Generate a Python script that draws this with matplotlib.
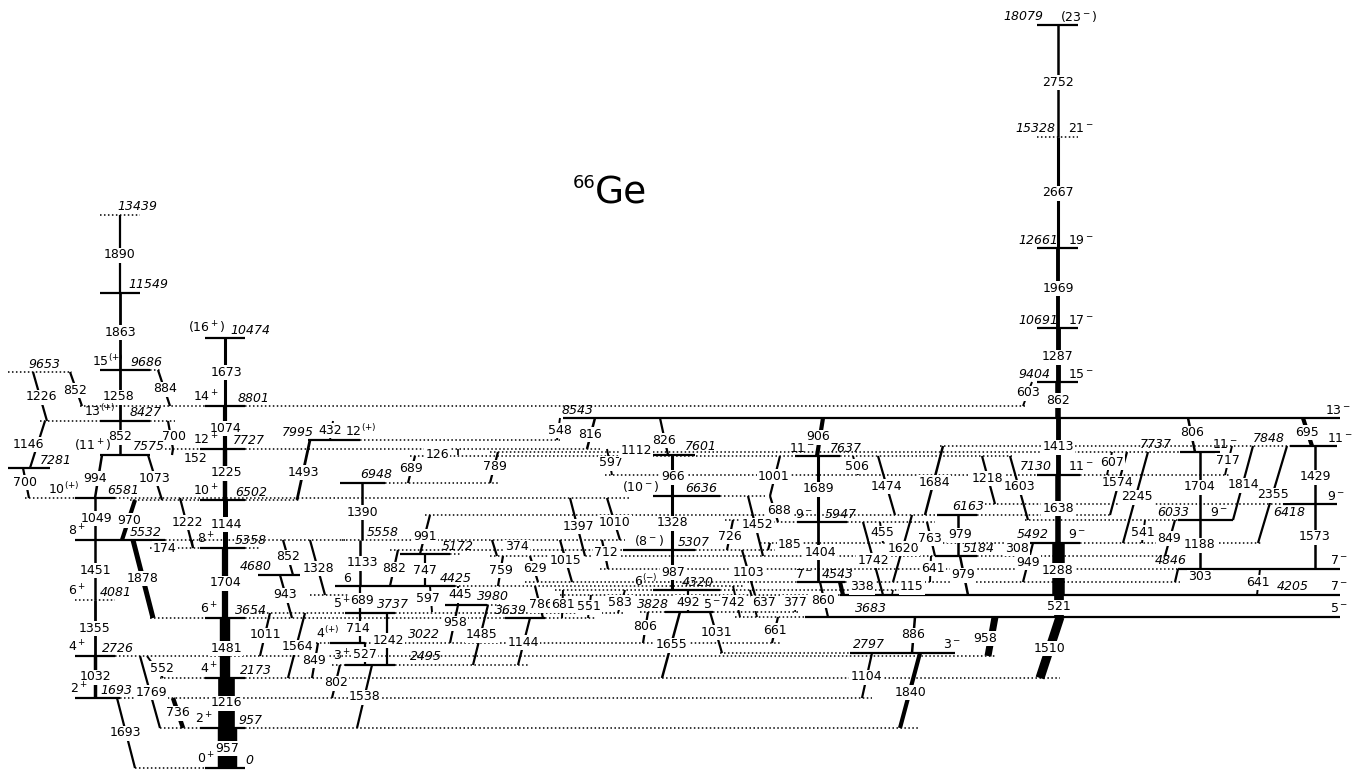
import matplotlib
matplotlib.use("Agg")
import matplotlib.pyplot as plt

# --- level data: energy (keV) and spin/parity label ---
level_energy = ["0", "957", "1693", "2173", "2495", "2726", "2797", "3022",
                "3639", "3654", "3683", "3737", "3828", "3980", "4081", "4205",
                "4320", "4425", "4543", "4680", "4846", "5172", "5184", "5307",
                "5358", "5492", "5532", "5558", "5947", "6033", "6163", "6418",
                "6502", "6581", "6636", "6948", "7130", "7281", "7575", "7601",
                "7637", "7727", "7737", "7848", "7995", "8427", "8543", "8801",
                "9404", "9653", "9686", "10474", "10691", "11549", "12661",
                "13439", "15328", "18079"]
level_spin = ["0$^+$", "2$^+$", "2$^+$", "4$^+$", "3$^+$", "4$^+$", "3$^-$", "4$^{(+)}$",
              "", "6$^+$", "5$^-$", "5$^+$", "5$^-$", "", "6$^+$", "7$^-$",
              "6$^{(-)}$", "6", "7$^-$", "", "7$^-$", "", "", "(8$^-$)",
              "8$^+$", "9$^-$", "8$^+$", "", "9$^-$", "9$^-$", "", "9$^-$",
              "10$^+$", "10$^{(+)}$", "(10$^-$)", "", "11$^-$", "", "(11$^+$)", "",
              "11$^-$", "12$^+$", "11$^-$", "11$^-$", "12$^{(+)}$", "13$^{(+)}$", "13$^-$", "14$^+$",
              "15$^-$", "", "15$^{(+)}$", "(16$^+$)", "17$^-$", "", "19$^-$",
              "", "21$^-$", "(23$^-$)"]

# --- gamma transitions: label, initial level, final level ---
gammas = [
    ("1890", "13439", "11549"), ("1863", "11549", "9686"), ("1258", "9686", "8427"),
    ("852", "9653", "8801"), ("1226", "9653", "8427"), ("884", "9686", "8801"),
    ("852", "8427", "7575"), ("1146", "8427", "7281"), ("700", "8427", "7727"),
    ("1074", "8801", "7727"), ("1673", "10474", "8801"), ("994", "7575", "6581"),
    ("700", "7281", "6581"), ("1073", "7575", "6502"), ("152", "7727", "7575"),
    ("1225", "7727", "6502"), ("1049", "6581", "5532"), ("970", "6502", "5532"),
    ("1222", "6581", "5358"), ("174", "5532", "5358"), ("1144", "6502", "5358"),
    ("1451", "5532", "4081"), ("1878", "5532", "3654"), ("1704", "5358", "3654"),
    ("1355", "4081", "2726"), ("1481", "3654", "2173"), ("1032", "2726", "1693"),
    ("1216", "2173", "957"), ("957", "957", "0"), ("1693", "1693", "0"),
    ("1769", "2726", "957"), ("552", "2726", "2173"), ("736", "1693", "957"),
    ("943", "4680", "3654"), ("852", "5532", "4680"), ("1328", "5532", "4205"),
    ("1011", "3737", "2726"), ("1564", "3737", "2173"), ("849", "3022", "2173"),
    ("802", "2495", "1693"), ("714", "3737", "3022"), ("1242", "3737", "2495"),
    ("527", "3022", "2495"), ("1538", "2495", "957"), ("689", "4425", "3737"),
    ("1133", "5558", "4425"), ("1390", "6948", "5558"), ("882", "5307", "4425"),
    ("747", "5172", "4425"), ("991", "6163", "5172"), ("597", "4425", "3828"),
    ("445", "4425", "3980"), ("958", "3980", "3022"), ("1485", "3980", "2495"),
    ("759", "5184", "4425"), ("374", "5558", "5184"), ("1144", "3639", "2495"),
    ("629", "5184", "4543"), ("786", "4425", "3639"), ("1015", "5558", "4543"),
    ("681", "4320", "3639"), ("551", "4205", "3654"), ("583", "4320", "3737"),
    ("1397", "6581", "5184"), ("712", "5558", "4846"), ("1010", "6581", "5558"),
    ("548", "8543", "7995"), ("816", "8543", "7727"), ("126", "7727", "7601"),
    ("789", "7737", "6948"), ("689", "7637", "6948"), ("1493", "7995", "6502"),
    ("432", "8427", "7995"), ("597", "7727", "7130"), ("1112", "7737", "7601"),
    ("826", "8543", "7601"), ("966", "7601", "6636"), ("1328", "6636", "5307"),
    ("987", "5307", "4320"), ("492", "4320", "3828"), ("1655", "3828", "2173"),
    ("1031", "3828", "2797"), ("806", "3828", "3022"), ("742", "4425", "3683"),
    ("637", "4320", "3683"), ("1103", "5307", "4205"), ("377", "4205", "3828"),
    ("661", "3683", "3022"), ("860", "4543", "3683"), ("338", "4543", "4205"),
    ("115", "4320", "4205"), ("1404", "5947", "4543"), ("1689", "7637", "5947"),
    ("906", "8543", "7637"), ("1001", "7637", "6636"), ("688", "6636", "5947"),
    ("1452", "6636", "5184"), ("726", "6033", "5307"), ("185", "5492", "5307"),
    ("506", "7637", "7130"), ("1474", "7637", "6163"), ("1684", "7848", "6163"),
    ("1218", "7637", "6418"), ("1603", "7637", "6033"), ("455", "5947", "5492"),
    ("1742", "5947", "4205"), ("1620", "6163", "4543"), ("763", "5947", "5184"),
    ("979", "6163", "5184"), ("979", "5184", "4205"), ("641", "5184", "4543"),
    ("308", "5492", "5184"), ("949", "5492", "4543"), ("1288", "5492", "4205"),
    ("521", "4205", "3683"), ("1510", "3683", "2173"), ("958", "3683", "2726"),
    ("886", "3683", "2797"), ("1104", "2797", "1693"), ("1840", "2797", "957"),
    ("1638", "7130", "5492"), ("1413", "8543", "7130"), ("862", "9404", "8543"),
    ("1287", "10691", "9404"), ("1969", "12661", "10691"), ("2667", "15328", "12661"),
    ("2752", "18079", "15328"), ("603", "9404", "8801"), ("607", "7737", "7130"),
    ("1574", "7737", "6163"), ("2245", "7737", "5492"), ("541", "6033", "5492"),
    ("849", "6033", "5184"), ("1188", "6033", "4846"), ("1704", "7737", "6033"),
    ("806", "8543", "7737"), ("717", "7848", "7130"), ("1814", "7848", "6033"),
    ("2355", "7848", "5492"), ("695", "8543", "7848"), ("1429", "7848", "6418"),
    ("1573", "6418", "4846"), ("303", "4846", "4543"), ("641", "4846", "4205"),
]

# --- drawing layout (page coordinates) ---
# level: y, solid spans, dotted spans, energy label x, spin label x
level_layout = {
    "0": (768, [(205, 245)], [(135, 205)], 245, 197),
    "957": (728, [(200, 245)], [(160, 200), (245, 920)], 238, 195),
    "1693": (698, [(75, 120)], [(120, 872)], 100, 70),
    "2173": (678, [(205, 245)], [(160, 205), (245, 1060)], 240, 200),
    "2495": (665, [(345, 395)], [(332, 345), (395, 530)], 410, 333),
    "2726": (656, [(75, 115)], [(115, 995)], 102, 68),
    "2797": (653, [(850, 955)], [(720, 850)], 853, 943),
    "3022": (643, [(330, 365)], [(312, 330), (365, 780)], 408, 316),
    "3639": (618, [(505, 545)], [], 495, 0),
    "3654": (618, [(205, 245)], [(150, 205), (245, 505), (545, 595)], 235, 200),
    "3683": (617, [(805, 1340)], [(735, 805)], 855, 1330),
    "3737": (613, [(345, 395)], [(255, 345), (395, 625)], 377, 333),
    "3828": (612, [(665, 713)], [(640, 665), (713, 800)], 637, 703),
    "3980": (605, [(445, 487)], [(487, 500)], 477, 0),
    "4081": (600, [], [(75, 115)], 100, 68),
    "4205": (595, [(840, 1340)], [(310, 350), (560, 840)], 1277, 1330),
    "4320": (590, [(653, 720)], [(555, 653), (720, 900)], 682, 634),
    "4425": (586, [(335, 455)], [(455, 745)], 440, 343),
    "4543": (582, [(797, 845)], [(525, 797), (845, 1180)], 822, 795),
    "4680": (575, [(258, 300)], [], 240, 0),
    "4846": (569, [(1178, 1340)], [(600, 1178)], 1155, 1330),
    "5172": (554, [(400, 450)], [(450, 460)], 442, 0),
    "5184": (556, [(935, 977)], [(490, 935), (977, 1170)], 963, 0),
    "5307": (550, [(623, 695)], [(390, 623), (695, 775)], 678, 634),
    "5358": (548, [(200, 245)], [(150, 200), (245, 260)], 235, 197),
    "5492": (543, [(1017, 1080)], [(760, 1017), (1080, 1262)], 1017, 1068),
    "5532": (540, [(75, 165)], [(165, 345)], 130, 68),
    "5558": (540, [], [(342, 625)], 367, 0),
    "5947": (522, [(797, 847)], [(765, 797), (847, 935)], 825, 795),
    "6033": (520, [(1178, 1233)], [(725, 765), (1025, 1178)], 1157, 1210),
    "6163": (515, [(937, 977)], [(425, 937), (977, 1112)], 952, 0),
    "6418": (504, [(1283, 1337)], [(985, 1283)], 1273, 1327),
    "6502": (500, [(200, 245)], [(130, 200), (245, 300)], 235, 193),
    "6581": (498, [(75, 115)], [(25, 75), (115, 630)], 107, 48),
    "6636": (496, [(653, 720)], [(720, 765)], 685, 622),
    "6948": (483, [(340, 385)], [(385, 500)], 360, 0),
    "7130": (475, [(1037, 1080)], [(605, 1037), (1080, 1230)], 1020, 1068),
    "7281": (468, [(8, 50)], [], 40, 0),
    "7575": (455, [(100, 150)], [], 133, 74),
    "7601": (455, [(640, 695)], [], 685, 0),
    "7637": (456, [(795, 840)], [(410, 795), (840, 1012)], 830, 789),
    "7727": (449, [(200, 245)], [(165, 200), (245, 600)], 233, 193),
    "7737": (452, [(1180, 1220)], [(490, 1180)], 1140, 1212),
    "7848": (446, [(1290, 1337)], [(940, 1290)], 1253, 1327),
    "7995": (440, [(308, 360)], [(360, 560)], 282, 345),
    "8427": (421, [(100, 150)], [(40, 100), (150, 175)], 130, 84),
    "8543": (418, [(563, 1340)], [], 562, 1325),
    "8801": (406, [(205, 245)], [(80, 205), (245, 1025)], 238, 193),
    "9404": (382, [(1037, 1078)], [], 1018, 1068),
    "9653": (372, [], [(8, 72)], 28, 0),
    "9686": (370, [(100, 150)], [(150, 160)], 130, 92),
    "10474": (338, [(205, 245)], [], 230, 188),
    "10691": (328, [(1037, 1078)], [], 1018, 1068),
    "11549": (293, [(100, 140)], [], 128, 0),
    "12661": (248, [(1037, 1078)], [], 1018, 1068),
    "13439": (215, [], [(100, 140)], 117, 0),
    "15328": (137, [], [(1037, 1078)], 1015, 1068),
    "18079": (25, [(1037, 1078)], [], 1003, 1060),
}
labels_below = ["6418"]

# gamma: x at top, x at bottom, line width, label centre x, label centre y
gamma_layout = [
    (120, 120, 1.6, 120, 255), (120, 120, 2.0, 120, 332), (120, 120, 2.0, 119, 397),
    (70, 82, 1.6, 75, 390), (33, 47, 1.6, 41, 397), (158, 170, 1.6, 165, 389),
    (120, 120, 1.8, 120, 437), (45, 30, 1.6, 28, 444), (168, 173, 1.6, 174, 437),
    (225, 225, 3.0, 226, 428), (225, 225, 2.2, 226, 372), (102, 95, 1.8, 95, 478),
    (23, 29, 1.6, 25, 482), (148, 162, 1.6, 155, 478), (173, 172, 1.6, 196, 458),
    (225, 225, 3.2, 226, 473), (95, 95, 1.8, 96, 518), (135, 122, 3.0, 129, 520),
    (180, 193, 1.6, 187, 522), (192, 193, 1.2, 165, 548), (225, 225, 3.6, 226, 524),
    (95, 95, 1.8, 95, 570), (133, 153, 3.6, 143, 578), (225, 225, 4.5, 226, 583),
    (95, 95, 2.0, 95, 628), (225, 225, 7.5, 226, 648), (95, 95, 2.5, 95, 677),
    (226, 226, 12, 226, 703), (227, 227, 14, 227, 748), (117, 135, 1.6, 125, 733),
    (140, 160, 1.6, 151, 692), (147, 163, 1.4, 162, 668), (173, 183, 3.2, 178, 713),
    (280, 292, 1.6, 285, 595), (283, 293, 1.6, 288, 557), (310, 325, 1.6, 318, 568),
    (270, 260, 1.6, 265, 635), (305, 288, 1.6, 297, 647), (318, 312, 1.6, 314, 660),
    (340, 332, 1.6, 336, 683), (360, 360, 1.6, 358, 628), (387, 387, 1.6, 388, 640),
    (365, 365, 1.6, 365, 654), (372, 357, 1.6, 365, 697), (360, 360, 1.6, 362, 600),
    (360, 360, 1.8, 362, 563), (362, 362, 1.8, 362, 512), (398, 390, 1.6, 394, 569),
    (425, 425, 1.6, 425, 570), (430, 420, 1.6, 425, 536), (430, 432, 1.4, 428, 598),
    (458, 458, 1.4, 460, 595), (458, 450, 1.6, 455, 623), (488, 473, 1.6, 482, 635),
    (503, 498, 1.6, 501, 570), (492, 497, 1.6, 517, 547), (530, 518, 1.6, 523, 642),
    (530, 538, 1.6, 535, 568), (535, 543, 1.6, 541, 605), (560, 572, 1.6, 566, 560),
    (563, 562, 1.4, 563, 605), (591, 588, 1.4, 589, 607), (625, 618, 1.4, 620, 602),
    (570, 585, 1.6, 578, 526), (602, 608, 1.6, 606, 553), (607, 620, 1.6, 615, 522),
    (560, 557, 1.4, 560, 430), (595, 587, 1.8, 590, 434), (458, 458, 1.2, 437, 454),
    (498, 490, 1.6, 495, 467), (415, 408, 1.6, 411, 468), (310, 297, 2.0, 303, 472),
    (333, 330, 1.4, 330, 430), (607, 612, 1.4, 611, 463), (645, 645, 1.0, 636, 450),
    (660, 668, 1.6, 664, 440), (672, 672, 2.2, 673, 477), (672, 672, 2.2, 672, 523),
    (672, 672, 2.2, 673, 572), (688, 688, 1.6, 688, 602), (680, 662, 1.8, 672, 645),
    (710, 722, 1.6, 716, 632), (648, 643, 1.6, 645, 627), (733, 740, 1.4, 733, 602),
    (750, 757, 1.4, 764, 603), (742, 755, 1.6, 748, 573), (797, 795, 1.2, 795, 602),
    (778, 772, 1.6, 775, 630), (820, 828, 1.6, 823, 600), (840, 843, 3.0, 862, 587),
    (893, 892, 1.2, 912, 587), (818, 818, 2.0, 820, 552), (818, 818, 2.2, 818, 489),
    (823, 817, 3.0, 818, 437), (780, 770, 1.6, 774, 476), (770, 778, 1.6, 779, 510),
    (748, 763, 1.6, 757, 525), (733, 727, 1.6, 730, 536), (770, 768, 1.6, 790, 545),
    (853, 858, 1.4, 857, 466), (878, 895, 1.6, 886, 486), (943, 925, 1.8, 934, 482),
    (982, 995, 1.6, 987, 478), (1010, 1028, 1.6, 1019, 487), (880, 883, 1.4, 882, 533),
    (863, 883, 1.6, 873, 560), (912, 893, 1.6, 903, 548), (927, 935, 1.6, 930, 538),
    (958, 958, 1.8, 960, 535), (960, 968, 1.8, 963, 575), (931, 930, 1.4, 933, 568),
    (1010, 1008, 1.4, 1017, 548), (1033, 1023, 1.6, 1028, 562), (1058, 1058, 9, 1058, 570),
    (1059, 1059, 7, 1059, 607), (1060, 1040, 6.5, 1050, 648), (995, 988, 5, 985, 638),
    (915, 912, 1.8, 913, 635), (872, 862, 1.6, 866, 677), (920, 900, 3.0, 911, 692),
    (1058, 1058, 4, 1058, 508), (1058, 1058, 3.5, 1058, 447), (1058, 1058, 4, 1058, 400),
    (1058, 1058, 3.5, 1058, 357), (1058, 1058, 2.8, 1058, 288), (1058, 1058, 2.2, 1058, 193),
    (1058, 1058, 1.8, 1058, 82), (1032, 1023, 1.4, 1028, 393), (1112, 1107, 1.4, 1112, 462),
    (1127, 1110, 1.6, 1118, 483), (1148, 1123, 1.6, 1137, 497), (1145, 1142, 1.4, 1143, 532),
    (1175, 1165, 1.6, 1169, 538), (1200, 1200, 1.8, 1200, 545), (1200, 1200, 1.8, 1200, 487),
    (1188, 1195, 1.8, 1192, 433), (1232, 1225, 1.4, 1228, 460), (1253, 1233, 1.6, 1243, 485),
    (1287, 1258, 1.6, 1273, 495), (1303, 1312, 3.0, 1307, 432), (1315, 1315, 1.8, 1315, 477),
    (1315, 1315, 1.8, 1315, 537), (1178, 1175, 1.6, 1200, 577), (1260, 1257, 1.4, 1258, 582),
]

W, H = 1357, 772
fig = plt.figure(figsize=(W / 100, H / 100), dpi=100)
ax = fig.add_axes([0, 0, 1, 1])
ax.set_xlim(0, W)
ax.set_ylim(H, 0)
ax.axis("off")

FS = 9
dots = (0, (1, 1.6))

# levels
for energy, spin in zip(level_energy, level_spin):
    y, solid, dotted, ex, sx = level_layout[energy]
    for x0, x1 in solid:
        ax.plot([x0, x1], [y, y], color="k", lw=1.6, solid_capstyle="butt", zorder=2)
    for x0, x1 in dotted:
        ax.plot([x0, x1], [y, y], color="k", lw=1.1, linestyle=dots, zorder=1)
    if energy in labels_below:
        ax.text(ex, y + 2, energy, fontsize=FS, style="italic", ha="left", va="top", zorder=5)
    else:
        ax.text(ex, y - 1.5, energy, fontsize=FS, style="italic", ha="left", va="bottom", zorder=5)
    if spin:
        ax.text(sx, y - 1.5, spin, fontsize=FS, ha="left", va="bottom", zorder=5)

# transitions
for (label, lev_i, lev_f), (xt, xb, lw, tx, ty) in zip(gammas, gamma_layout):
    yt = level_layout[lev_i][0]
    yb = level_layout[lev_f][0]
    ax.plot([xt, xb], [yt, yb], color="k", lw=lw, solid_capstyle="butt", zorder=3)
    ax.text(tx, ty, label, fontsize=FS, ha="center", va="center", zorder=4,
            bbox=dict(boxstyle="square,pad=0.08", fc="white", ec="none"))

# nucleus name
ax.text(595, 183, "66", fontsize=13, ha="right", va="center")
ax.text(595, 193, "Ge", fontsize=27, ha="left", va="center")

fig.savefig("out.png", dpi=100, facecolor="white")
